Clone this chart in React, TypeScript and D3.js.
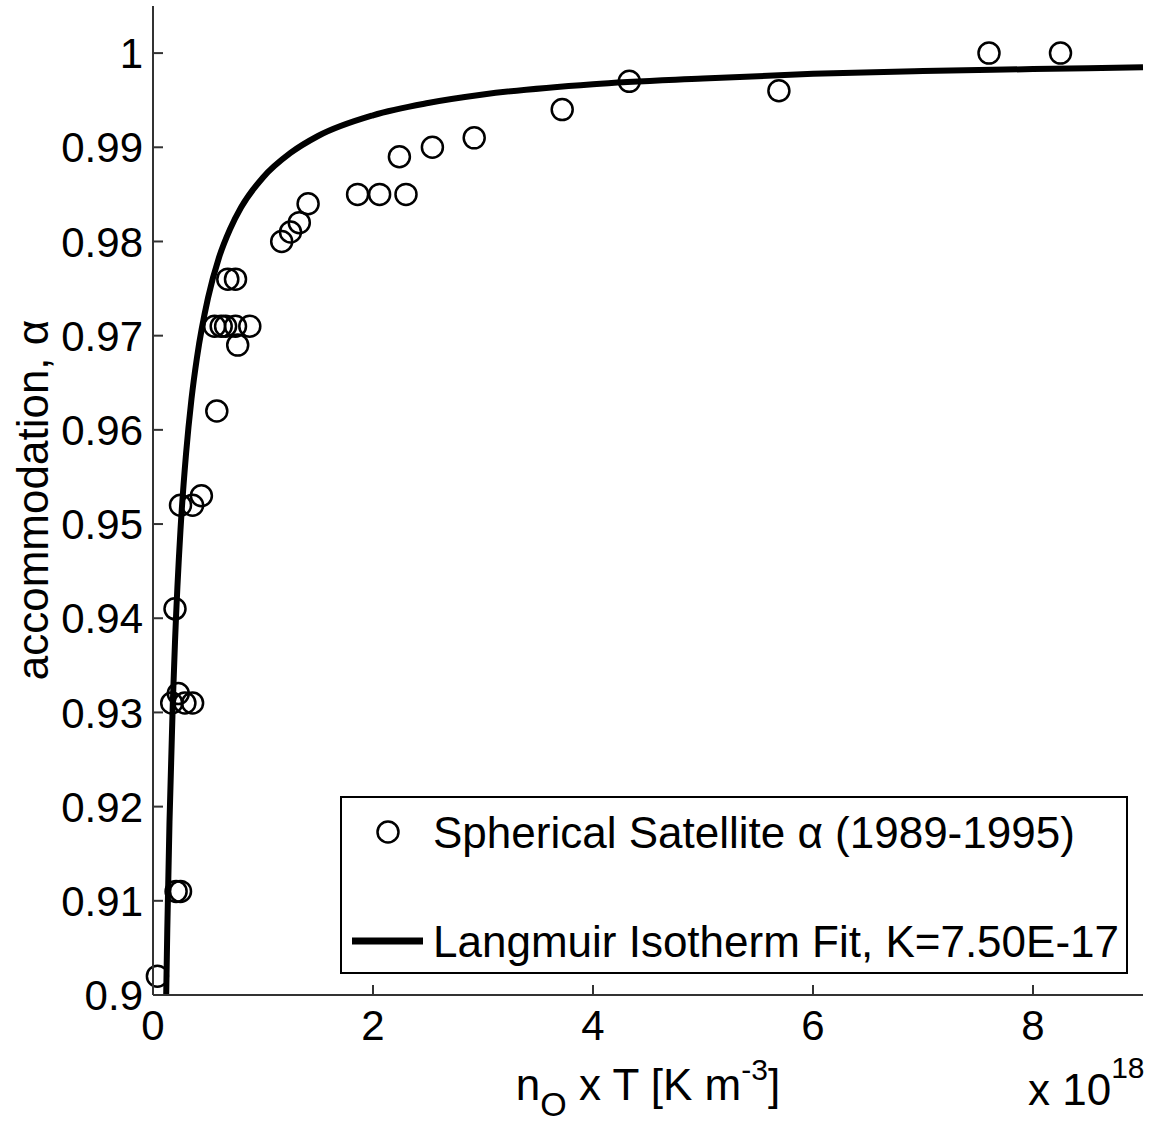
import React from "react";
import * as d3 from "d3";

// Observed accommodation data (n_O x T in units of 1e18 K m^-3)
const obsX = [0.04, 0.21, 0.25, 0.17, 0.23, 0.29, 0.36, 0.2, 0.25, 0.36, 0.44, 0.58, 0.56, 0.62, 0.66, 0.75, 0.88, 0.77, 0.68, 0.75, 1.17, 1.25, 1.33, 1.41, 1.86, 2.06, 2.3, 2.24, 2.54, 2.92, 3.72, 4.33, 5.69, 7.6, 8.25];
const obsY = [0.902, 0.911, 0.911, 0.931, 0.932, 0.931, 0.931, 0.941, 0.952, 0.952, 0.953, 0.962, 0.971, 0.971, 0.971, 0.971, 0.971, 0.969, 0.976, 0.976, 0.98, 0.981, 0.982, 0.984, 0.985, 0.985, 0.985, 0.989, 0.99, 0.991, 0.994, 0.997, 0.996, 1.0, 1.0];

// Fit curve
const fitX = [0.12, 0.13, 0.15, 0.18, 0.2, 0.25, 0.3, 0.35, 0.4, 0.5, 0.6, 0.7, 0.8, 1.0, 1.25, 1.5, 2, 2.5, 3, 4, 5, 6, 7, 8, 9];
const fitY = [0.9, 0.907, 0.9184, 0.931, 0.9375, 0.9494, 0.9574, 0.9633, 0.9677, 0.974, 0.9783, 0.9813, 0.9836, 0.9868, 0.9894, 0.9912, 0.9934, 0.9947, 0.9956, 0.9967, 0.9973, 0.9978, 0.9981, 0.9983, 0.9985];

const xTicks = [0, 2, 4, 6, 8];
const xTickLabels = ["0", "2", "4", "6", "8"];
const yTicks = [0.9, 0.91, 0.92, 0.93, 0.94, 0.95, 0.96, 0.97, 0.98, 0.99, 1.0];
const yTickLabels = ["0.9", "0.91", "0.92", "0.93", "0.94", "0.95", "0.96", "0.97", "0.98", "0.99", "1"];

const legendLabels = ["Spherical Satellite \u03b1 (1989-1995)", "Langmuir Isotherm Fit, K=7.50E-17"];
const yLabel = "accommodation, \u03b1";

const FONT = "'Liberation Sans', Arial, Helvetica, sans-serif";

export default function App() {
  const W = 1149, H = 1126;
  const x = d3.scaleLinear().domain([0, 9]).range([153, 1143]);
  const y = d3.scaleLinear().domain([0.9, 1.005]).range([995, 6]);
  const fitData = fitX.map((v, i) => [v, fitY[i]] as [number, number]);
  const line = d3.line<[number, number]>().x(d => x(d[0])).y(d => y(d[1])).curve(d3.curveMonotoneX);
  const axisColor = "#333";
  return (
    <svg width={W} height={H} style={{ position: "absolute", left: 0, top: 0, background: "#fff" }} fontFamily={FONT}>
      <rect x={0} y={0} width={W} height={H} fill="#fff" />
      {/* data markers */}
      {obsX.map((v, i) => (
        <circle key={i} cx={x(v)} cy={y(obsY[i])} r={10.5} fill="none" stroke="#000" strokeWidth={2.5} />
      ))}
      {/* fit line */}
      <path d={line(fitData) || ""} fill="none" stroke="#000" strokeWidth={6} strokeLinejoin="round" />
      {/* axes */}
      <line x1={x(0)} x2={x(0)} y1={y(1.005)} y2={y(0.9)} stroke={axisColor} strokeWidth={2} />
      <line x1={x(0)} x2={x(9)} y1={y(0.9)} y2={y(0.9)} stroke={axisColor} strokeWidth={2} />
      {yTicks.map((t, i) => (
        <g key={"y" + i}>
          <line x1={x(0)} x2={x(0) + 10} y1={y(t)} y2={y(t)} stroke={axisColor} strokeWidth={2} />
          <text x={143} y={y(t)} dy="0.36em" textAnchor="end" fontSize={42} fill="#000">{yTickLabels[i]}</text>
        </g>
      ))}
      {xTicks.map((t, i) => (
        <g key={"x" + i}>
          <line x1={x(t)} x2={x(t)} y1={y(0.9)} y2={y(0.9) - 10} stroke={axisColor} strokeWidth={2} />
          <text x={x(t)} y={1040} textAnchor="middle" fontSize={42} fill="#000">{xTickLabels[i]}</text>
        </g>
      ))}
      {/* x exponent */}
      <text x={1028} y={1105} fontSize={44} fill="#000">x 10<tspan dy={-27} fontSize={30}>18</tspan></text>
      {/* x label */}
      <text x={648} y={1100} textAnchor="middle" fontSize={44} fill="#000">
        n<tspan dy={16} fontSize={34}>O</tspan><tspan dy={-16}> x T [K m</tspan><tspan dy={-20} fontSize={30}>-3</tspan><tspan dy={20}>]</tspan>
      </text>
      {/* y label */}
      <text transform={`translate(48, 500) rotate(-90)`} textAnchor="middle" fontSize={44} fill="#000">{yLabel}</text>
      {/* legend */}
      <rect x={341} y={797} width={786} height={176} fill="#fff" stroke="#000" strokeWidth={2} />
      <circle cx={388} cy={832} r={10.5} fill="none" stroke="#000" strokeWidth={2.5} />
      <text x={433} y={848} fontSize={44} fill="#000">{legendLabels[0]}</text>
      <line x1={352} x2={423} y1={941} y2={941} stroke="#000" strokeWidth={7} />
      <text x={433} y={957} fontSize={44} fill="#000">{legendLabels[1]}</text>
    </svg>
  );
}
